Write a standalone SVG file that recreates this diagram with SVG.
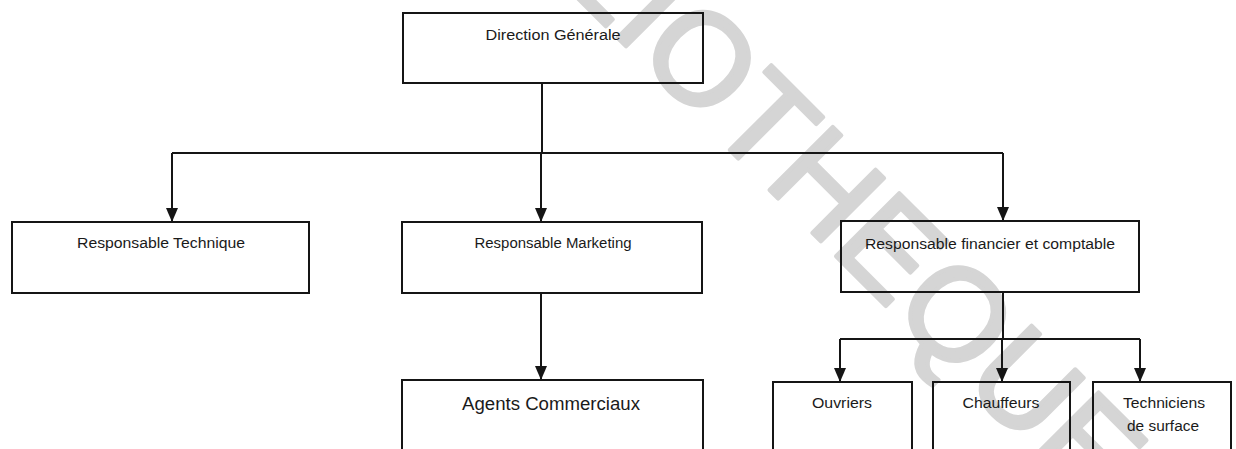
<svg xmlns="http://www.w3.org/2000/svg" width="1236" height="449" viewBox="0 0 1236 449">
<style>
  .box { fill: none; stroke: #151515; stroke-width: 2; }
  .lbl { font-family: "Liberation Sans", Arial, sans-serif; font-size: 15.5px; fill: #1a1a1a; text-anchor: middle; }
  .big { font-size: 17.5px; }
  .con { fill: none; stroke: #151515; stroke-width: 2; }
  .wm { font-family: "Liberation Sans", Arial, sans-serif; font-size: 130px; fill: #d5d5d5; stroke: #d5d5d5; stroke-width: 4; stroke-linejoin: round; }
</style>
<defs>
  <marker id="arr" viewBox="0 0 14 12" refX="14" refY="6" markerWidth="14" markerHeight="12" orient="auto" markerUnits="userSpaceOnUse">
    <path d="M0,0 L14,6 L0,12 z" fill="#151515"/>
  </marker>
</defs>
<rect width="1236" height="449" fill="#ffffff"/>
<text class="wm" transform="translate(409.6,-170) rotate(45)">BIBLIOTHEQUE</text>

<g id="connectors">
  <path class="con" d="M542,83 V153"/>
  <path class="con" d="M172,153 H1003"/>
  <path class="con" d="M172,153 V222" marker-end="url(#arr)"/>
  <path class="con" d="M541,153 V222" marker-end="url(#arr)"/>
  <path class="con" d="M1003,153 V221" marker-end="url(#arr)"/>
  <path class="con" d="M541,293 V380" marker-end="url(#arr)"/>
  <path class="con" d="M1003,293 V339"/>
  <path class="con" d="M840,339 H1140"/>
  <path class="con" d="M840,339 V382" marker-end="url(#arr)"/>
  <path class="con" d="M1002,339 V382" marker-end="url(#arr)"/>
  <path class="con" d="M1140,339 V382" marker-end="url(#arr)"/>
</g>

<g id="direction-generale">
  <rect class="box" x="403" y="13" width="300" height="70"/>
  <text class="lbl" x="553" y="40" textLength="135" lengthAdjust="spacingAndGlyphs">Direction Générale</text>
</g>
<g id="responsable-technique">
  <rect class="box" x="12" y="222" width="297" height="71"/>
  <text class="lbl" x="161" y="248" textLength="168" lengthAdjust="spacingAndGlyphs">Responsable Technique</text>
</g>
<g id="responsable-marketing">
  <rect class="box" x="402" y="222" width="300" height="71"/>
  <text class="lbl" x="553" y="248" textLength="157" lengthAdjust="spacingAndGlyphs">Responsable Marketing</text>
</g>
<g id="responsable-financier">
  <rect class="box" x="841" y="221" width="298" height="71"/>
  <text class="lbl" x="990" y="249" textLength="250" lengthAdjust="spacingAndGlyphs">Responsable financier et comptable</text>
</g>
<g id="agents-commerciaux">
  <rect class="box" x="402" y="380" width="301" height="75"/>
  <text class="lbl big" x="551" y="410" textLength="178" lengthAdjust="spacingAndGlyphs">Agents Commerciaux</text>
</g>
<g id="ouvriers">
  <rect class="box" x="773" y="382" width="139" height="73"/>
  <text class="lbl" x="842" y="408" textLength="60" lengthAdjust="spacingAndGlyphs">Ouvriers</text>
</g>
<g id="chauffeurs">
  <rect class="box" x="933" y="382" width="137" height="73"/>
  <text class="lbl" x="1001" y="408" textLength="77" lengthAdjust="spacingAndGlyphs">Chauffeurs</text>
</g>
<g id="techniciens-surface">
  <rect class="box" x="1093" y="382" width="138" height="73"/>
  <text class="lbl" x="1164" y="408" textLength="82" lengthAdjust="spacingAndGlyphs">Techniciens</text>
  <text class="lbl" x="1163" y="431" textLength="72" lengthAdjust="spacingAndGlyphs">de surface</text>
</g>
</svg>
